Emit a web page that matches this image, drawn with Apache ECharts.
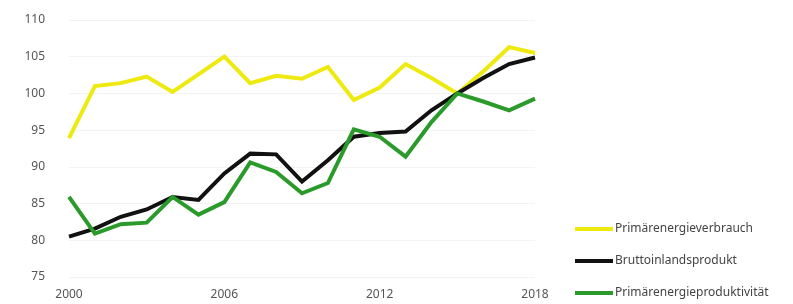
<!DOCTYPE html>
<html>
<head>
<meta charset="utf-8">
<script src="https://cdn.jsdelivr.net/npm/echarts@6/dist/echarts.min.js"></script>
<style>
  html, body { margin: 0; padding: 0; background: #fff; }
  #chart { width: 793px; height: 304px; }
</style>
</head>
<body>
<div id="chart"></div>
<script>
// Jahre und Indexwerte (2015 = 100)
const years = ['2000','2001','2002','2003','2004','2005','2006','2007','2008','2009',
  '2010','2011','2012','2013','2014','2015','2016','2017','2018'];
const verbrauch = [93.9, 101.0, 101.4, 102.3, 100.2, 102.6, 105.0, 101.4, 102.4, 102.0,
  103.6, 99.1, 100.8, 104.0, 102.1, 100.0, 103.0, 106.3, 105.5];
const bip = [80.5, 81.6, 83.2, 84.2, 85.9, 85.5, 89.1, 91.8, 91.7, 88.0,
  90.9, 94.1, 94.6, 94.8, 97.7, 100.0, 102.1, 104.0, 104.9];
const produktivitaet = [85.9, 80.9, 82.2, 82.4, 85.9, 83.5, 85.2, 90.6, 89.3, 86.4,
  87.8, 95.1, 94.1, 91.4, 96.1, 100.0, 98.9, 97.7, 99.3];
const names = ['Primärenergieverbrauch', 'Bruttoinlandsprodukt', 'Primärenergieproduktivität'];

const chart = echarts.init(document.getElementById('chart'));

function line(name, data, color) {
  return {
    name: name,
    type: 'line',
    data: data,
    symbol: 'none',
    lineStyle: { color: color, width: 4, join: 'miter' },
    itemStyle: { color: color },
    animation: false
  };
}

chart.setOption({
  textStyle: { fontFamily: 'Noto Sans' },
  grid: { left: 69, right: 258, top: 20, bottom: 27 },
  legend: {
    orient: 'vertical',
    left: 575,
    top: 222,
    padding: 0,
    itemGap: 18,
    itemWidth: 38,
    itemHeight: 4,
    icon: 'rect',
    textStyle: { color: '#444', fontSize: 12, lineHeight: 14, padding: [0, 0, 0, -3] },
    data: names
  },
  xAxis: {
    type: 'category',
    data: years,
    boundaryGap: false,
    axisLine: { show: false },
    axisTick: { show: false },
    axisLabel: { interval: 5, color: '#555', fontSize: 12, margin: 12 },
    splitLine: { show: false }
  },
  yAxis: {
    type: 'value',
    min: 75,
    max: 110,
    interval: 5,
    axisLine: { show: false },
    axisTick: { show: false },
    axisLabel: { color: '#555', fontSize: 12, margin: 24 },
    splitLine: { lineStyle: { color: '#f3f3f3', width: 1 } }
  },
  series: [
    line(names[0], verbrauch, '#eeea10'),
    line(names[1], bip, '#111111'),
    line(names[2], produktivitaet, '#2a9a2a')
  ]
});
</script>
</body>
</html>
